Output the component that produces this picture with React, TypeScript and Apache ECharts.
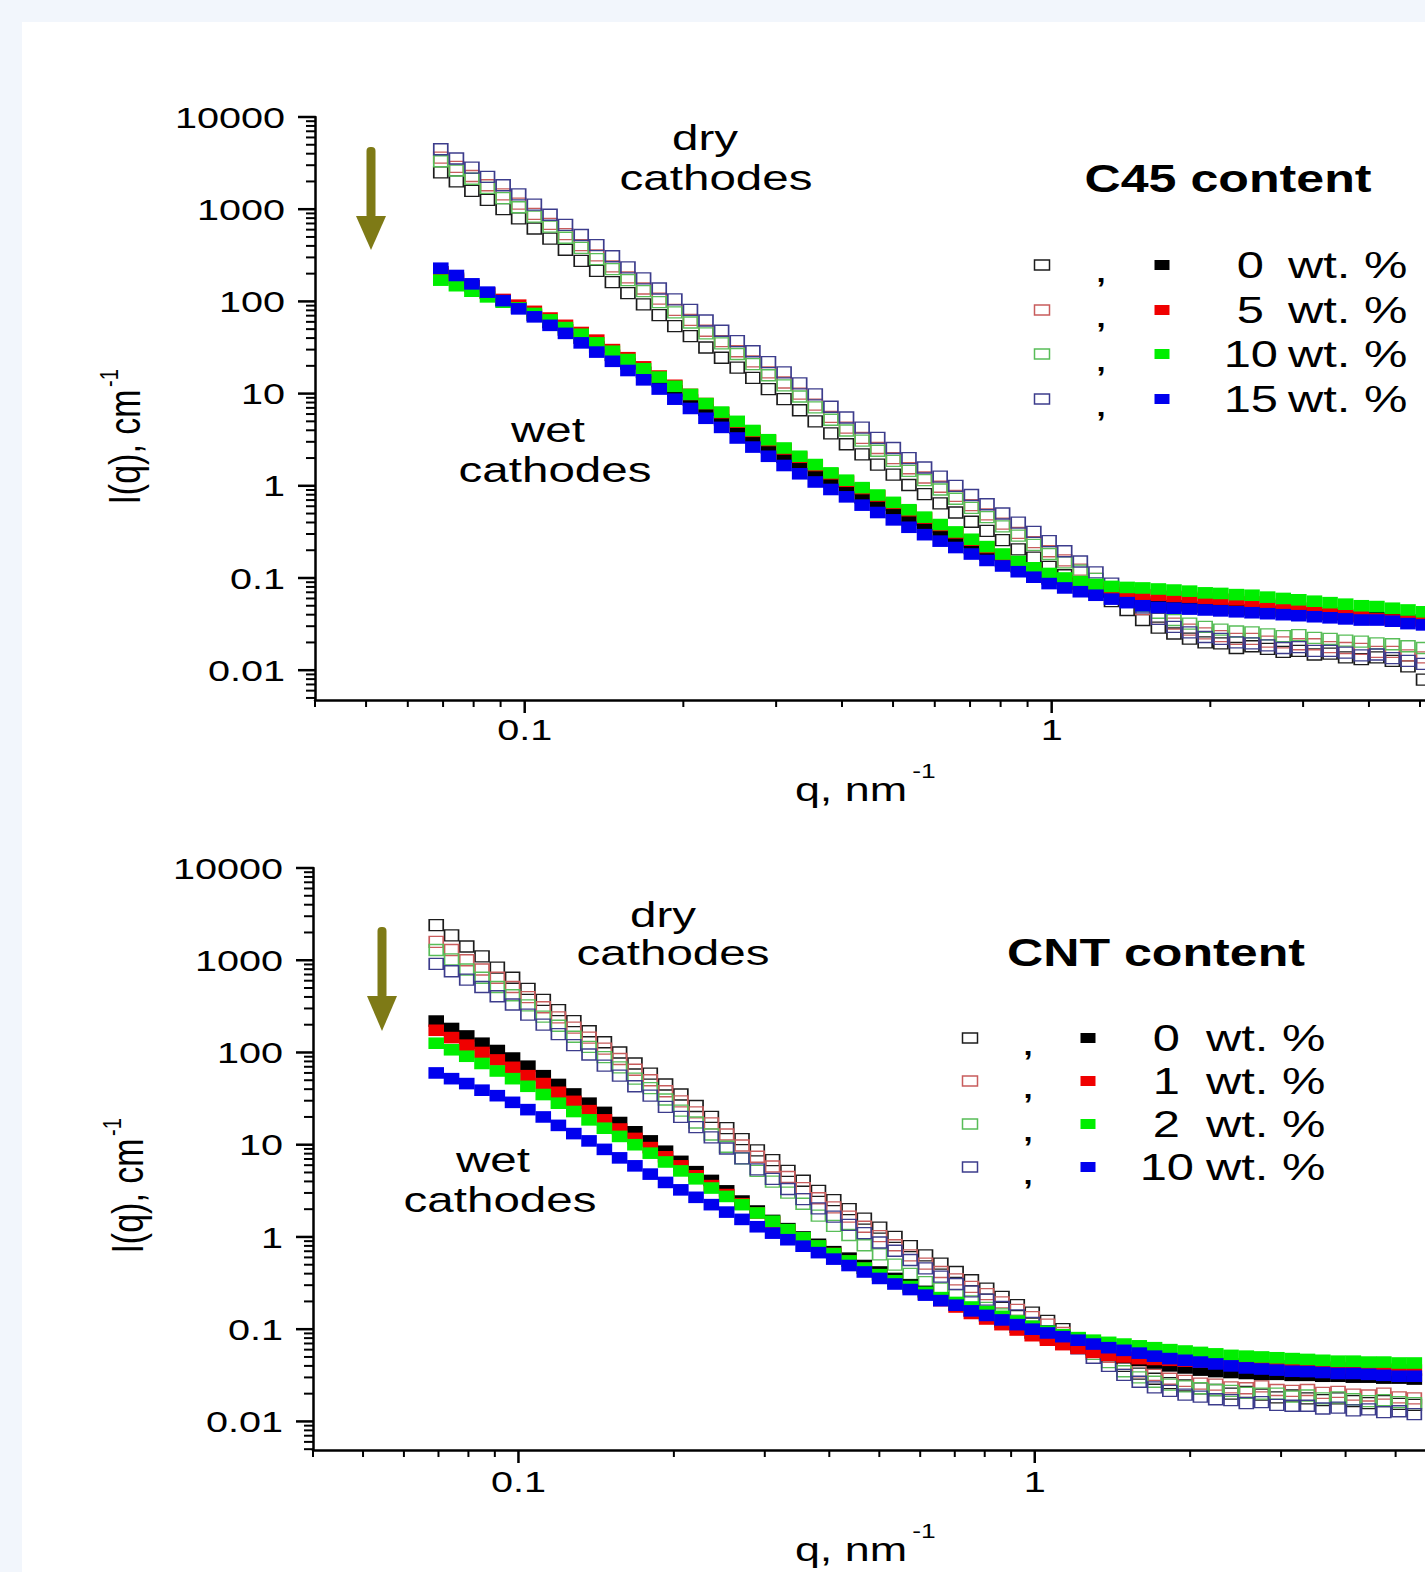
import React, { useEffect, useRef } from 'react';
import * as echarts from 'echarts';

// ---------- shared q grid (nm^-1) ----------
const Q = [0.0693, 0.0742, 0.0794, 0.085, 0.091, 0.0974, 0.1043, 0.1117, 0.1195, 0.128, 0.137, 0.1467, 0.157, 0.1681, 0.18, 0.1927, 0.2063, 0.2208, 0.2364, 0.2531, 0.271, 0.2901, 0.3106, 0.3325, 0.3559, 0.3811, 0.408, 0.4368, 0.4676, 0.5006, 0.536, 0.5738, 0.6143, 0.6577, 0.7041, 0.7538, 0.807, 0.864, 0.9249, 0.9888, 1.0585, 1.1333, 1.2132, 1.2989, 1.3906, 1.4887, 1.5938, 1.7062, 1.8267, 1.9555, 2.0936, 2.2414, 2.3995, 2.5689, 2.7502, 2.9443, 3.1522, 3.3746, 3.6128, 3.8679, 4.1408, 4.4317, 4.7434, 5.078, 5.435];

// ---------- C45 panel: dry cathodes (open squares) ----------
const C45_DRY_0 = [2510, 2000, 1580, 1260, 1000, 794, 617, 479, 363, 275, 214, 162, 123, 93, 71, 54, 42, 31.6, 24.5, 19.1, 14.8, 11.2, 8.7, 6.6, 5, 3.7, 2.82, 2.19, 1.7, 1.32, 1.02, 0.813, 0.646, 0.513, 0.407, 0.324, 0.257, 0.204, 0.166, 0.132, 0.107, 0.087, 0.071, 0.056, 0.045, 0.035, 0.029, 0.025, 0.022, 0.02, 0.0195, 0.0174, 0.0182, 0.017, 0.0158, 0.0162, 0.0148, 0.0151, 0.0138, 0.0132, 0.0138, 0.0126, 0.011, 0.0079, 0.0063];
const C45_DRY_5 = [3630, 2880, 2290, 1820, 1450, 1150, 891, 692, 537, 407, 316, 240, 182, 138, 107, 81, 63, 48, 37, 28.8, 22.4, 17, 13.2, 10, 7.6, 5.6, 4.27, 3.31, 2.57, 2, 1.55, 1.23, 0.977, 0.776, 0.617, 0.49, 0.389, 0.309, 0.245, 0.195, 0.155, 0.123, 0.098, 0.076, 0.059, 0.046, 0.036, 0.032, 0.0275, 0.0251, 0.0234, 0.0219, 0.0219, 0.0204, 0.02, 0.0191, 0.0191, 0.0178, 0.0174, 0.017, 0.0158, 0.0158, 0.0145, 0.0138, 0.0126];
const C45_DRY_10 = [3310, 2630, 2140, 1700, 1320, 1050, 832, 646, 490, 380, 288, 224, 170, 129, 98, 76, 59, 45, 35, 26.9, 20.9, 15.8, 12.3, 9.3, 7.1, 5.2, 3.98, 3.09, 2.4, 1.86, 1.45, 1.15, 0.912, 0.724, 0.575, 0.457, 0.363, 0.288, 0.229, 0.182, 0.148, 0.12, 0.098, 0.079, 0.063, 0.05, 0.042, 0.035, 0.032, 0.0295, 0.0275, 0.0263, 0.0257, 0.0245, 0.0234, 0.024, 0.0224, 0.0219, 0.0209, 0.0204, 0.0195, 0.0191, 0.0182, 0.0174, 0.0166];
const C45_DRY_15 = [4470, 3550, 2820, 2240, 1820, 1450, 1120, 871, 676, 525, 407, 309, 234, 178, 138, 105, 81, 62, 48, 37, 28.8, 21.9, 17, 12.9, 9.8, 7.2, 5.5, 4.27, 3.31, 2.57, 2, 1.58, 1.26, 1, 0.794, 0.631, 0.501, 0.398, 0.316, 0.251, 0.195, 0.151, 0.115, 0.087, 0.065, 0.048, 0.036, 0.0295, 0.0257, 0.0229, 0.0219, 0.02, 0.0195, 0.0186, 0.0174, 0.0178, 0.0162, 0.0162, 0.0155, 0.0145, 0.0148, 0.0135, 0.0126, 0.0117, 0.0105];

// ---------- C45 panel: wet cathodes (filled squares) ----------
const C45_WET_0 = [209, 178, 148, 123, 102, 85, 71, 59, 49, 40, 32, 26, 21, 17, 13.5, 10.7, 8.5, 6.6, 5.2, 4.2, 3.3, 2.57, 2.04, 1.66, 1.35, 1.1, 0.912, 0.741, 0.617, 0.513, 0.427, 0.355, 0.295, 0.245, 0.209, 0.178, 0.151, 0.132, 0.112, 0.098, 0.087, 0.078, 0.071, 0.065, 0.059, 0.055, 0.052, 0.05, 0.049, 0.048, 0.047, 0.046, 0.045, 0.044, 0.043, 0.042, 0.041, 0.04, 0.039, 0.038, 0.037, 0.036, 0.035, 0.035, 0.034];
const C45_WET_5 = [200, 170, 145, 123, 105, 91, 78, 66, 55, 46, 38, 30, 24.5, 19.5, 15.5, 12.3, 9.8, 7.8, 6.2, 4.9, 3.9, 3.1, 2.51, 2.04, 1.66, 1.35, 1.12, 0.933, 0.776, 0.646, 0.537, 0.447, 0.372, 0.309, 0.257, 0.214, 0.178, 0.148, 0.126, 0.107, 0.093, 0.085, 0.079, 0.074, 0.069, 0.066, 0.065, 0.063, 0.062, 0.06, 0.059, 0.058, 0.055, 0.052, 0.05, 0.047, 0.044, 0.042, 0.04, 0.038, 0.036, 0.035, 0.034, 0.033, 0.032];
const C45_WET_10 = [170, 148, 129, 112, 98, 85, 74, 63, 52, 44, 35.5, 28.8, 23.4, 18.6, 15.1, 12, 9.8, 7.8, 6.3, 5, 3.98, 3.16, 2.57, 2.09, 1.7, 1.38, 1.15, 0.955, 0.794, 0.661, 0.55, 0.457, 0.38, 0.316, 0.263, 0.219, 0.182, 0.151, 0.129, 0.112, 0.1, 0.091, 0.085, 0.081, 0.079, 0.078, 0.076, 0.074, 0.072, 0.069, 0.068, 0.066, 0.065, 0.062, 0.06, 0.058, 0.056, 0.054, 0.052, 0.05, 0.049, 0.047, 0.045, 0.043, 0.042];
const C45_WET_15 = [229, 191, 155, 126, 102, 83, 68, 55, 45, 35.5, 28.2, 22.4, 17.8, 14.1, 11.2, 8.7, 6.9, 5.4, 4.3, 3.3, 2.63, 2.09, 1.66, 1.35, 1.1, 0.912, 0.759, 0.617, 0.513, 0.427, 0.355, 0.295, 0.251, 0.214, 0.182, 0.155, 0.135, 0.117, 0.102, 0.087, 0.078, 0.071, 0.065, 0.059, 0.054, 0.05, 0.048, 0.047, 0.046, 0.045, 0.044, 0.043, 0.042, 0.041, 0.04, 0.039, 0.038, 0.037, 0.036, 0.035, 0.035, 0.034, 0.032, 0.031, 0.03];

// ---------- CNT panel: dry cathodes (open squares) ----------
const CNT_DRY_0 = [2400, 1860, 1410, 1100, 832, 646, 490, 372, 288, 219, 170, 129, 100, 76, 59, 45, 35, 26.3, 20, 15.1, 11.5, 8.7, 6.8, 5.2, 4.07, 3.16, 2.51, 2, 1.58, 1.26, 1, 0.794, 0.631, 0.513, 0.417, 0.339, 0.275, 0.224, 0.182, 0.151, 0.123, 0.1, 0.079, 0.063, 0.05, 0.04, 0.033, 0.029, 0.026, 0.0245, 0.0229, 0.0219, 0.02, 0.0209, 0.0195, 0.0182, 0.0191, 0.0178, 0.017, 0.0178, 0.0166, 0.0158, 0.0166, 0.0155, 0.0151];
const CNT_DRY_1 = [1580, 1290, 1000, 794, 646, 513, 398, 309, 240, 186, 145, 110, 85, 65, 50, 38, 29.5, 22.4, 17, 12.9, 9.8, 7.4, 5.8, 4.47, 3.39, 2.63, 2.09, 1.66, 1.29, 1.02, 0.813, 0.631, 0.513, 0.417, 0.347, 0.288, 0.24, 0.195, 0.162, 0.135, 0.112, 0.091, 0.074, 0.06, 0.05, 0.042, 0.035, 0.032, 0.029, 0.0275, 0.0257, 0.0251, 0.0234, 0.0229, 0.024, 0.0219, 0.0214, 0.0219, 0.0204, 0.0209, 0.0195, 0.0191, 0.02, 0.0182, 0.0178];
const CNT_DRY_2 = [1290, 1020, 794, 646, 513, 417, 324, 245, 195, 148, 115, 89, 69, 52, 41, 30.9, 23.4, 17.4, 12.9, 9.5, 7.1, 5.2, 3.98, 3.02, 2.29, 1.7, 1.32, 1.05, 0.813, 0.646, 0.501, 0.398, 0.324, 0.275, 0.234, 0.2, 0.17, 0.145, 0.123, 0.107, 0.091, 0.078, 0.065, 0.054, 0.044, 0.035, 0.03, 0.0269, 0.0251, 0.024, 0.0229, 0.0219, 0.0214, 0.0204, 0.02, 0.02, 0.0186, 0.0191, 0.0178, 0.0182, 0.0174, 0.0166, 0.017, 0.0162, 0.0158];
const CNT_DRY_10 = [912, 759, 617, 513, 407, 331, 257, 200, 158, 120, 95, 72, 56, 43, 34, 25.7, 20, 15.5, 12, 9.1, 7.1, 5.4, 4.27, 3.31, 2.57, 2.04, 1.66, 1.35, 1.1, 0.871, 0.708, 0.562, 0.457, 0.372, 0.309, 0.257, 0.209, 0.174, 0.141, 0.117, 0.095, 0.078, 0.062, 0.049, 0.04, 0.032, 0.0269, 0.0234, 0.0214, 0.0195, 0.0186, 0.0174, 0.017, 0.0158, 0.0162, 0.0151, 0.0148, 0.0148, 0.0138, 0.0141, 0.0132, 0.0135, 0.0126, 0.0129, 0.012];

// ---------- CNT panel: wet cathodes (filled squares) ----------
const CNT_WET_0 = [219, 182, 151, 126, 105, 87, 71, 56, 45, 35.5, 28.2, 22.4, 17.4, 13.8, 11, 8.5, 6.6, 5.1, 4.1, 3.16, 2.45, 1.91, 1.51, 1.23, 1, 0.832, 0.692, 0.589, 0.49, 0.417, 0.355, 0.302, 0.257, 0.219, 0.186, 0.158, 0.138, 0.12, 0.105, 0.091, 0.081, 0.072, 0.066, 0.06, 0.052, 0.049, 0.046, 0.043, 0.04, 0.038, 0.036, 0.0347, 0.0339, 0.0331, 0.0324, 0.0324, 0.0316, 0.0316, 0.0309, 0.0309, 0.0302, 0.0302, 0.0295, 0.0295, 0.0288];
const CNT_WET_1 = [174, 145, 120, 100, 83, 69, 56, 46, 37, 29.5, 23.4, 18.6, 14.8, 11.7, 9.3, 7.4, 5.9, 4.6, 3.6, 2.88, 2.29, 1.82, 1.45, 1.17, 0.955, 0.794, 0.661, 0.55, 0.457, 0.389, 0.331, 0.282, 0.24, 0.204, 0.174, 0.148, 0.129, 0.112, 0.098, 0.085, 0.076, 0.068, 0.062, 0.056, 0.052, 0.05, 0.048, 0.047, 0.046, 0.045, 0.044, 0.043, 0.042, 0.041, 0.041, 0.04, 0.04, 0.039, 0.039, 0.038, 0.038, 0.037, 0.037, 0.036, 0.036];
const CNT_WET_2 = [126, 107, 91, 76, 63, 52, 43, 35, 28.2, 22.9, 18.6, 15.1, 12.3, 10, 8.1, 6.5, 5.2, 4.27, 3.39, 2.75, 2.24, 1.82, 1.48, 1.2, 0.98, 0.8, 0.66, 0.55, 0.46, 0.39, 0.335, 0.29, 0.251, 0.22, 0.195, 0.174, 0.155, 0.138, 0.122, 0.107, 0.095, 0.087, 0.081, 0.076, 0.072, 0.069, 0.066, 0.063, 0.06, 0.058, 0.056, 0.054, 0.052, 0.051, 0.05, 0.049, 0.048, 0.047, 0.046, 0.045, 0.045, 0.044, 0.044, 0.043, 0.043];
const CNT_WET_10 = [60, 52, 46, 39, 34, 28.8, 24, 20, 16.2, 13.2, 11, 8.9, 7.2, 5.9, 4.8, 3.9, 3.24, 2.69, 2.24, 1.86, 1.55, 1.29, 1.1, 0.933, 0.794, 0.676, 0.575, 0.49, 0.417, 0.355, 0.309, 0.269, 0.234, 0.204, 0.182, 0.158, 0.141, 0.126, 0.112, 0.1, 0.091, 0.083, 0.076, 0.069, 0.063, 0.059, 0.055, 0.051, 0.048, 0.046, 0.044, 0.042, 0.04, 0.038, 0.037, 0.036, 0.035, 0.0347, 0.0339, 0.0331, 0.0331, 0.0324, 0.0316, 0.0309, 0.0309];

// ---------- labels & ticks ----------
const C45_LEVELS = ['0', '5', '10', '15'];
const CNT_LEVELS = ['0', '1', '2', '10'];
const X_MAJOR = [0.1, 1];
const X_LABELS = ['0.1', '1'];
const X_MINOR = [0.04, 0.05, 0.06, 0.07, 0.08, 0.09, 0.2, 0.3, 0.4, 0.5, 0.6, 0.7, 0.8, 0.9, 2, 3, 4, 5];
const Y_MAJOR = [0.01, 0.1, 1, 10, 100, 1000, 10000];
const Y_LABELS = ['0.01', '0.1', '1', '10', '100', '1000', '10000'];
const Y_MINOR = [0.005, 0.006, 0.007, 0.008, 0.009, 0.02, 0.03, 0.04, 0.05, 0.06, 0.07, 0.08, 0.09, 0.2, 0.3, 0.4, 0.5, 0.6, 0.7, 0.8, 0.9, 2, 3, 4, 5, 6, 7, 8, 9, 20, 30, 40, 50, 60, 70, 80, 90, 200, 300, 400, 500, 600, 700, 800, 900, 2000, 3000, 4000, 5000, 6000, 7000, 8000, 9000];

const FONT = '"Liberation Sans", Arial, Helvetica, sans-serif';
const SX = 1.32; // horizontal stretch of the original figure's lettering
const OLIVE = '#7e7a16';
const OPEN_COLORS = ['#1c1c1c', '#c85c5c', '#58bd58', '#3c3c8c'];
const FILL_COLORS = ['#000000', '#f00000', '#00ee00', '#0000ee'];

const TOP_RANGE = { xMin: 0.04, xMax: 5.11, yMin: 0.00475, yMax: 10000, labelGap: 29 };
const BOT_RANGE = { xMin: 0.04, xMax: 5.7, yMin: 0.0049, yMax: 10000, labelGap: 31 };

function txt(x: number, y: number, text: string, fontSize: number, o: any = {}) {
  const align = o.align || 'center';
  const vAlign = o.vAlign || 'middle';
  return {
    type: 'text',
    x,
    y,
    rotation: o.rotation || 0,
    scaleX: o.sx !== undefined ? o.sx : SX,
    scaleY: o.sy !== undefined ? o.sy : 1,
    silent: true,
    z: 20,
    style: {
      text,
      fontSize,
      fontFamily: FONT,
      fontWeight: o.weight || 'normal',
      fill: '#000',
      align,
      textAlign: align,
      verticalAlign: vAlign,
      textVerticalAlign: vAlign,
    },
  };
}

function scatterSeries(name: string, values: number[], gi: number, color: string, filled: boolean) {
  return {
    type: 'scatter',
    name,
    xAxisIndex: gi,
    yAxisIndex: gi,
    data: Q.map((q, i) => [q, values[i]]),
    symbol: 'rect',
    symbolSize: filled ? [15.6, 11.6] : [14, 11],
    silent: true,
    z: filled ? 3 : 2,
    itemStyle: filled
      ? { color, borderWidth: 0, opacity: 1 }
      : { color: 'rgba(0,0,0,0)', borderColor: color, borderWidth: 1.5, opacity: 1 },
  };
}

function tickSeries(gi: number, rng: any) {
  const data: number[][] = [];
  X_MAJOR.forEach((v, i) => data.push([v, rng.yMin, 0, i]));
  X_MINOR.forEach((v) => data.push([v, rng.yMin, 1, 0]));
  Y_MAJOR.forEach((v, i) => data.push([rng.xMin, v, 2, i]));
  Y_MINOR.forEach((v) => { if (v >= rng.yMin) data.push([rng.xMin, v, 3, 0]); });
  return {
    type: 'custom',
    xAxisIndex: gi,
    yAxisIndex: gi,
    silent: true,
    z: 6,
    clip: false,
    dimensions: ['x', 'y', 'k', 'l'],
    encode: { x: 0, y: 1 },
    data,
    renderItem: (params: any, api: any) => {
      const k = api.value(2);
      const li = api.value(3);
      const p = api.coord([api.value(0), api.value(1)]);
      const children: any[] = [];
      if (k === 0 || k === 1) {
        const len = k === 0 ? 13 : 7;
        children.push({ type: 'line', shape: { x1: p[0], y1: p[1], x2: p[0], y2: p[1] + len }, style: { stroke: '#000', lineWidth: k === 0 ? 2.5 : 2 } });
        if (k === 0) children.push(txt(p[0], p[1] + rng.labelGap, X_LABELS[li], 30));
      } else {
        const len = k === 2 ? 17 : 9;
        children.push({ type: 'line', shape: { x1: p[0] - len, y1: p[1], x2: p[0], y2: p[1] }, style: { stroke: '#000', lineWidth: k === 2 ? 2.5 : 2 } });
        if (k === 2) children.push(txt(p[0] - 30, p[1], Y_LABELS[li], 30, { align: 'right' }));
      }
      return { type: 'group', children };
    },
  };
}

function axisPair(rng: any, gi: number) {
  const common = {
    type: 'log',
    logBase: 10,
    gridIndex: gi,
    axisLine: { show: true, onZero: false, lineStyle: { color: '#000', width: 2.5 } },
    axisTick: { show: false },
    axisLabel: { show: false },
    splitLine: { show: false },
    minorTick: { show: false },
    minorSplitLine: { show: false },
  };
  return {
    x: { ...common, min: rng.xMin, max: rng.xMax },
    y: { ...common, min: rng.yMin, max: rng.yMax },
  };
}

function legendBlock(title: string, tx: number, ty: number, levels: string[], rows: number[], xs: any) {
  const els: any[] = [txt(tx, ty, title, 38, { weight: 'bold' })];
  levels.forEach((lv, i) => {
    const y = rows[i];
    els.push({ type: 'rect', silent: true, z: 20, shape: { x: xs.open - 7.5, y: y - 5, width: 15, height: 10 }, style: { fill: 'none', stroke: OPEN_COLORS[i], lineWidth: 1.5 } });
    els.push(txt(xs.comma, y + 4, ',', 37));
    els.push({ type: 'rect', silent: true, z: 20, shape: { x: xs.fill - 7.5, y: y - 5, width: 15, height: 10 }, style: { fill: FILL_COLORS[i] } });
    els.push(txt(lv.length === 1 ? xs.num1 : xs.num2, y, lv, 37, { align: 'right' }));
    els.push(txt(xs.wt, y, 'wt. %', 37, { align: 'left' }));
  });
  return els;
}

function arrow(cx: number, y0: number, yHead: number, yTip: number) {
  return [
    { type: 'rect', silent: true, z: 20, shape: { x: cx - 4.5, y: y0, width: 9, height: yHead - y0 + 3, r: 4 }, style: { fill: OLIVE } },
    { type: 'polygon', silent: true, z: 20, shape: { points: [[cx - 15, yHead], [cx + 15, yHead], [cx, yTip]] }, style: { fill: OLIVE } },
  ];
}

export default function App() {
  const ref = useRef<HTMLDivElement>(null);
  useEffect(() => {
    if (!ref.current) return;
    const chart = echarts.init(ref.current, undefined, { renderer: 'svg' });
    const top = axisPair(TOP_RANGE, 0);
    const bot = axisPair(BOT_RANGE, 1);

    const series: any[] = [];
    const c45Dry = [C45_DRY_0, C45_DRY_5, C45_DRY_10, C45_DRY_15];
    const c45Wet = [C45_WET_0, C45_WET_5, C45_WET_10, C45_WET_15];
    const cntDry = [CNT_DRY_0, CNT_DRY_1, CNT_DRY_2, CNT_DRY_10];
    const cntWet = [CNT_WET_0, CNT_WET_1, CNT_WET_2, CNT_WET_10];
    c45Dry.forEach((d, i) => series.push(scatterSeries(`C45 dry ${C45_LEVELS[i]} wt.%`, d, 0, OPEN_COLORS[i], false)));
    c45Wet.forEach((d, i) => series.push(scatterSeries(`C45 wet ${C45_LEVELS[i]} wt.%`, d, 0, FILL_COLORS[i], true)));
    cntDry.forEach((d, i) => series.push(scatterSeries(`CNT dry ${CNT_LEVELS[i]} wt.%`, d, 1, OPEN_COLORS[i], false)));
    cntWet.forEach((d, i) => series.push(scatterSeries(`CNT wet ${CNT_LEVELS[i]} wt.%`, d, 1, FILL_COLORS[i], true)));
    series.push(tickSeries(0, TOP_RANGE));
    series.push(tickSeries(1, BOT_RANGE));

    const graphics: any[] = [
      { type: 'rect', silent: true, z: -10, shape: { x: 0, y: 0, width: 1425, height: 22 }, style: { fill: '#f2f6fc' } },
      { type: 'rect', silent: true, z: -10, shape: { x: 0, y: 0, width: 22, height: 1572 }, style: { fill: '#f2f6fc' } },
      ...arrow(371, 147, 216, 250),
      ...arrow(382, 927, 996, 1031),
      // panel annotations
      txt(705, 138, 'dry', 36),
      txt(716, 178, 'cathodes', 36),
      txt(548, 430, 'wet', 36),
      txt(555, 470, 'cathodes', 36),
      txt(663, 915, 'dry', 36),
      txt(673, 953, 'cathodes', 36),
      txt(493, 1160, 'wet', 36),
      txt(500, 1200, 'cathodes', 36),
      // axis titles
      txt(851, 789, 'q, nm', 34),
      txt(924, 771, '-1', 20),
      txt(851, 1549, 'q, nm', 34),
      txt(924, 1531, '-1', 20),
      txt(124, 447, 'I(q), cm', 34, { rotation: Math.PI / 2, sx: 1, sy: SX }),
      txt(109, 378, '-1', 20, { rotation: Math.PI / 2, sx: 1, sy: SX }),
      txt(127, 1196, 'I(q), cm', 34, { rotation: Math.PI / 2, sx: 1, sy: SX }),
      txt(112, 1127, '-1', 20, { rotation: Math.PI / 2, sx: 1, sy: SX }),
      ...legendBlock('C45 content', 1228, 179, C45_LEVELS, [265, 310, 354, 399], { open: 1042, comma: 1101, fill: 1162, num1: 1264, num2: 1278, wt: 1288 }),
      ...legendBlock('CNT content', 1156, 953, CNT_LEVELS, [1038, 1081, 1124, 1167], { open: 970, comma: 1028, fill: 1088, num1: 1180, num2: 1194, wt: 1206 }),
    ];

    chart.setOption({
      animation: false,
      backgroundColor: '#ffffff',
      grid: [
        { left: 315, top: 117, width: 1110, height: 583, containLabel: false },
        { left: 313, top: 868, width: 1112, height: 582, containLabel: false },
      ],
      xAxis: [top.x, bot.x],
      yAxis: [top.y, bot.y],
      series,
      graphic: { elements: graphics },
    });
    return () => chart.dispose();
  }, []);
  return <div ref={ref} style={{ position: 'absolute', left: 0, top: 0, width: 1425, height: 1572 }} />;
}
